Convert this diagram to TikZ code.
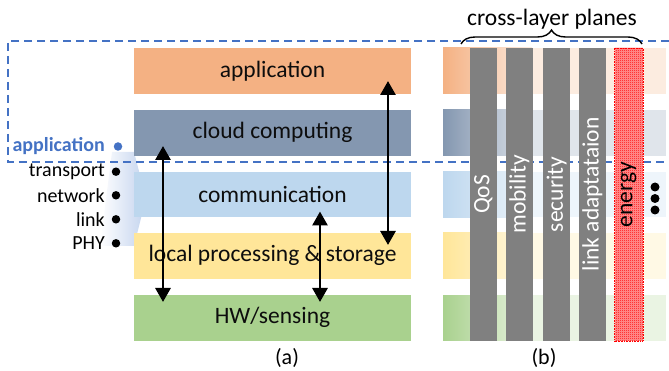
\documentclass[tikz,border=0pt]{standalone}
\usepackage{fontspec}
\setmainfont{Carlito}
\usetikzlibrary{arrows.meta,decorations.pathreplacing,patterns}
\definecolor{cOrange}{HTML}{F4B183}
\definecolor{cCloud}{HTML}{8497B0}
\definecolor{cBlue}{HTML}{BDD7EE}
\definecolor{cYellow}{HTML}{FFE699}
\definecolor{cGreen}{HTML}{A9D18E}
\definecolor{cDash}{HTML}{4472C4}
\definecolor{cBar}{HTML}{808080}
\definecolor{cChev}{HTML}{C3D3EE}
\definecolor{cText}{HTML}{0D0D0D}
\pgfdeclarepatternformonly{finechecker}{\pgfpointorigin}{\pgfqpoint{2pt}{2pt}}{\pgfqpoint{2pt}{2pt}}{%
  \pgfpathrectangle{\pgfpointorigin}{\pgfqpoint{1pt}{1pt}}%
  \pgfpathrectangle{\pgfqpoint{1pt}{1pt}}{\pgfqpoint{1pt}{1pt}}%
  \pgfusepath{fill}}
\begin{document}
\begin{tikzpicture}[x=1pt,y=-1pt,
  layer/.style={rectangle,inner sep=0pt,minimum width=277pt,minimum height=45.7pt,
    text=cText,font=\fontsize{23.5}{27}\selectfont},
  stack/.style={line width=2.8pt,arrows={Triangle[width=15pt,length=14pt]-Triangle[width=15pt,length=14pt]}},
  side/.style={anchor=east,inner sep=0pt,font=\fontsize{20}{24}\selectfont},
  sdot/.style={circle,fill=black,inner sep=0pt,minimum size=8.5pt},
  bar/.style={rectangle,inner sep=0pt,minimum width=26.7pt,minimum height=292.7pt,fill=cBar},
  barlabel/.style={rotate=90,text=white,font=\fontsize{23.5}{27}\selectfont,inner sep=0pt},
  dashline/.style={draw=cDash,line width=1.8pt,dash pattern=on 8pt off 5pt},
  captxt/.style={font=\fontsize{22}{26}\selectfont,inner sep=0pt}]
\useasboundingbox (0,0) rectangle (669,371);

% chevron behind side labels
\shade[left color=white,right color=cChev,draw=none]
  (112,152) -- (134,152) -- (146,198) -- (134,246) -- (100,246) -- cycle;

% stripes in panel (b)
\foreach \c/\yt in {cOrange/48,cCloud/110,cBlue/171.7,cYellow/233,cGreen/295}{
  \shade[left color=\c,right color=\c!25] (443,\yt) rectangle (532,\yt+45.7);
  \fill[\c!25] (531.5,\yt) rectangle (666,\yt+45.7);
}

% dashed boundary
\coordinate (dA) at (669,41);
\coordinate (dB) at (8,41);
\coordinate (dC) at (8,162);
\coordinate (dD) at (669,162);
\draw[dashline] (dA) -- (dB) -- (dC) -- (dD);

% layers (a)
\node[layer,fill=cOrange] (app) at (272.5,70.85) {application};
\node[layer,fill=cCloud] (cloud) at (272.5,132.85) {cloud computing};
\node[layer,fill=cBlue] (comm) at (272.5,194.55) {communication};
\node[layer,fill=cYellow] (local) at (272.5,255.85) {local processing \& storage};
\node[layer,fill=cGreen] (hw) at (272.5,317.85) {HW/sensing};

% arrows
\coordinate (l1) at (163,146);
\coordinate (l2) at (163,302);
\coordinate (r1) at (388,81);
\coordinate (r2) at (388,245);
\coordinate (m1) at (320,211.5);
\coordinate (m2) at (320,302);
\draw[stack] (l1) -- (l2);
\draw[stack] (r1) -- (r2);
\draw[stack] (m1) -- (m2);

% side labels
\node[side,text=cDash,font=\fontsize{20}{24}\selectfont\bfseries] (sApp) at (105,146.5) {application};
\node[sdot,fill=cDash] (dApp) at (118,146.5) {};
\node[side] (sTr) at (105,171.7) {transport};
\node[sdot] (dTr) at (116,171.7) {};
\node[side] (sNet) at (105,195.3) {network};
\node[sdot] (dNet) at (116,195.3) {};
\node[side] (sLink) at (105,219.3) {link};
\node[sdot] (dLink) at (116,219.3) {};
\node[side] (sPhy) at (105,243.3) {PHY};
\node[sdot] (dPhy) at (116,243.3) {};

% bars (b)
\node[bar] (qos) at (483.3,194.4) {};
\node[barlabel] at (qos.center) {QoS};
\node[bar] (mob) at (519.3,194.4) {};
\node[barlabel] at (mob.center) {mobility};
\node[bar] (sec) at (556.6,194.4) {};
\node[barlabel] at (sec.center) {security};
\node[bar] (lnk) at (592.3,194.4) {};
\node[barlabel] at (lnk.center) {link adaptataion};
\node[bar,fill=red!40,minimum width=27.7pt] (en) at (628.8,194.4) {};
\fill[pattern=finechecker,pattern color=red] (en.north west) rectangle (en.south east);
\draw[red,line width=0.6pt,densely dotted] (en.north west) rectangle (en.south east);
\node[barlabel,text=black] at (en.center) {energy};

% dots
\node[sdot,minimum size=9pt] (e1) at (655,187) {};
\node[sdot,minimum size=9pt] (e2) at (655,198.5) {};
\node[sdot,minimum size=9pt] (e3) at (655,210) {};

% brace and title
\coordinate (b1) at (461,44);
\coordinate (b2) at (642,44);
\draw[line width=1.4pt,decorate,decoration={brace,amplitude=14pt}] (b1) -- (b2);
\node[font=\fontsize{23.5}{27}\selectfont,inner sep=0pt] (title) at (552,19) {cross-layer planes};

% captions
\node[captxt] (ca) at (287,358) {(a)};
\node[captxt] (cb) at (544,358) {(b)};
\end{tikzpicture}
\end{document}
